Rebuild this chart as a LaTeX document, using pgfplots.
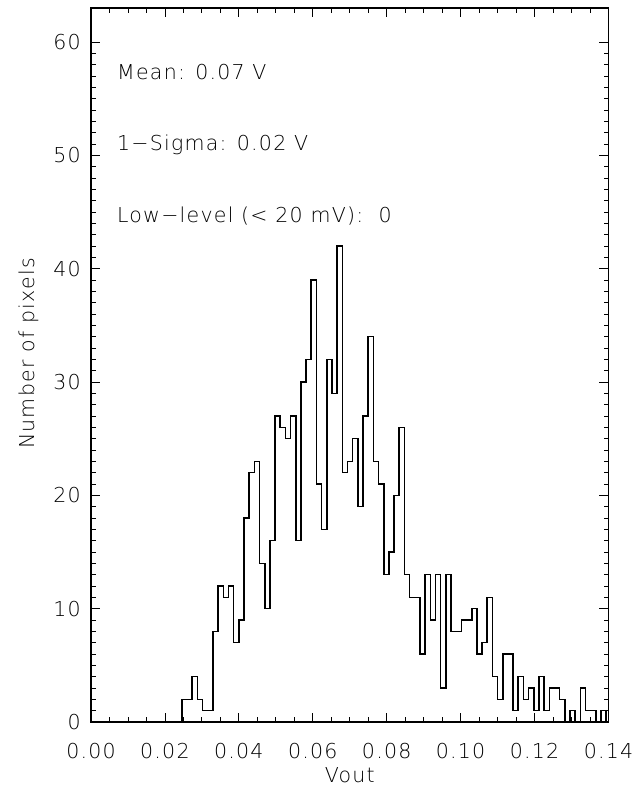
\documentclass[border=0pt]{standalone}
\usepackage{pgfplots}
\pgfplotsset{compat=1.18}
\usepackage{fontspec}
\setmainfont{DejaVu Sans ExtraLight}[LetterSpace=6]
\newcommand{\lblfont}{\fontsize{15.4}{18}\selectfont}
\begin{document}
\begin{tikzpicture}
% keep the page at the reference proportions (1px = 0.75pt)
\useasboundingbox (-68.25pt,-51.75pt) rectangle (414pt,541.5pt);
\begin{axis}[
    at={(0pt,0pt)}, anchor=south west,
    scale only axis,
    width=388.1pt, height=535.5pt,
    xmin=0, xmax=0.14, ymin=0, ymax=63,
    xtick={0,0.02,0.04,0.06,0.08,0.1,0.12,0.14},
    ytick={0,10,20,30,40,50,60},
    minor x tick num=3, minor y tick num=9,
    major tick length=7pt, minor tick length=3.5pt,
    tick style={black, line width=0.6pt},
    axis line style={line width=0.8pt},
    /pgf/number format/assume math mode=true,
    x tick label style={/pgf/number format/fixed, /pgf/number format/fixed zerofill, /pgf/number format/precision=2},
    tick label style={font=\lblfont},
    xticklabel style={anchor=north, inner sep=0pt, yshift=-15.75pt},
    yticklabel style={anchor=east, inner sep=0pt, xshift=-7.5pt},
    xlabel={Vout}, ylabel={Number of pixels},
    every axis x label/.style={at={(axis description cs:0.5,-0.0749)}, anchor=center, font=\lblfont},
    every axis y label/.style={at={(axis description cs:-0.1198,0.516)}, rotate=90, anchor=center, font=\lblfont},
]
% histogram, bin width 0.0014
\addplot[const plot, black, line width=1.2pt] coordinates {
(0,0) (0.0246,2) (0.0260,2) (0.0274,4) (0.0288,2) (0.0302,1) (0.0316,1)
(0.0330,8) (0.0344,12) (0.0358,11) (0.0372,12) (0.0386,7) (0.0400,9)
(0.0414,18) (0.0428,22) (0.0442,23) (0.0456,14) (0.0470,10) (0.0484,16)
(0.0498,27) (0.0512,26) (0.0526,25) (0.0540,27) (0.0554,16) (0.0568,30)
(0.0582,32) (0.0596,39) (0.0610,21) (0.0624,17) (0.0638,32) (0.0652,29)
(0.0666,42) (0.0680,22) (0.0694,23) (0.0708,25) (0.0722,19) (0.0736,27)
(0.0750,34) (0.0764,23) (0.0778,21) (0.0792,13) (0.0806,15) (0.0820,20)
(0.0834,26) (0.0848,13) (0.0862,11) (0.0876,11) (0.0890,6) (0.0904,13)
(0.0918,9) (0.0932,13) (0.0946,3) (0.0960,13) (0.0974,8) (0.0988,8)
(0.1002,9) (0.1016,9) (0.1030,10) (0.1044,6) (0.1058,7) (0.1072,11)
(0.1086,4) (0.1100,2) (0.1114,6) (0.1128,6) (0.1142,1) (0.1156,4)
(0.1170,2) (0.1184,3) (0.1198,1) (0.1212,4) (0.1226,1) (0.1240,3)
(0.1254,3) (0.1268,2) (0.1282,0) (0.1296,1) (0.1310,0) (0.1324,3)
(0.1338,1) (0.1352,1) (0.1366,0) (0.1380,1) (0.1394,0)
};
\node[anchor=base west, inner sep=0pt, font=\lblfont] at (axis cs:0.007,56.7) {Mean: 0.07 V};
\node[anchor=base west, inner sep=0pt, font=\lblfont] at (axis cs:0.007,50.4) {1−Sigma: 0.02 V};
\node[anchor=base west, inner sep=0pt, font=\lblfont] at (axis cs:0.007,44.1) {Low−level (< 20 mV):\ \ 0};
\end{axis}
\end{tikzpicture}
\end{document}
